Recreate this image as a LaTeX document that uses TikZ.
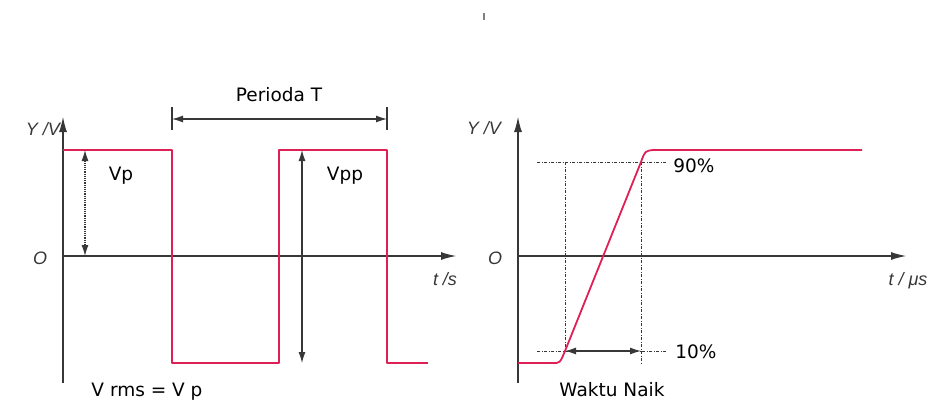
\documentclass[tikz,border=0pt]{standalone}
\usepackage{fontspec}
\setmainfont{DejaVu Sans}
\newfontfamily\axisfont{Liberation Sans}
\usepackage{tikz}
\usetikzlibrary{arrows.meta}
\usepackage{xcolor}
\definecolor{sigred}{RGB}{222,32,86}
\definecolor{axgray}{RGB}{55,55,55}

\begin{document}
\begin{tikzpicture}[x=1pt, y=-1pt,
  axis/.style={line width=2pt, axgray, -{Latex[length=16pt,width=8pt]}},
  wave/.style={line width=1.8pt, sigred, line join=round},
  dim/.style={line width=1.2pt, axgray, {Latex[length=11pt,width=7pt]}-{Latex[length=11pt,width=7pt]}},
  guide/.style={line width=1pt, axgray, dash pattern=on 3pt off 1.5pt on 1pt off 1.5pt},
  lbl/.style={font=\fontsize{18.5}{22}\selectfont, text=black, inner sep=0pt},
  axlbl/.style={font=\axisfont\itshape\fontsize{18}{21}\selectfont, text=axgray, inner sep=0pt}]
\useasboundingbox (0,0) rectangle (937,407);

% stray mark at the top
\draw[line width=1.5pt, gray] (484,13) -- (484,20);

%%% Left panel: square wave
% axes
\draw[axis] (63,383) -- (63,116);
\draw[axis] (63,256) -- (457,256);
\node[axlbl] at (43,129) {Y /V};
\node[axlbl] at (40,258) {O};
\node[axlbl] at (445,279) {t /s};

% signal
\draw[wave] (63,150) -- (172,150) -- (172,363) -- (279,363) -- (279,150)
  -- (387,150) -- (387,363) -- (428,363);

% period
\draw[line width=1.2pt, axgray] (172,107) -- (172,130);
\draw[line width=1.2pt, axgray] (387,107) -- (387,130);
\draw[dim] (172,119) -- (387,119);
\node[lbl] at (279,95) {Perioda T};

% peak and peak-to-peak
\draw[dim, densely dotted] (85,150) -- (85,256);
\node[lbl] at (121,176) {Vp};
\draw[dim] (302,150) -- (302,363);
\node[lbl] at (345,176) {Vpp};

\node[lbl] at (147,392) {V rms = V p};

%%% Right panel: rise time
\draw[axis] (518,383) -- (518,116);
\draw[axis] (518,256) -- (907,256);
\node[axlbl] at (484,128) {Y /V};
\node[axlbl] at (495,258) {O};
\node[axlbl] at (908,281) {t / μs};

% 10% and 90% levels
\coordinate (low_pt) at (565,351);
\coordinate (high_pt) at (641,162);
\draw[guide] (537,162) -- (667,162);
\draw[guide] (537,351) -- (667,351);
\draw[guide] (565,162) -- (565,351);
\draw[guide] (641,162) -- (641,363);
\node[lbl] at (694,166) {90\%};
\node[lbl] at (696,352) {10\%};

% signal
\draw[wave] (518,363) -- (553,363) .. controls (560,363) .. (low_pt) -- (high_pt)
  .. controls (645,151) .. (653,150) -- (862,150);

% rise time
\draw[dim] (low_pt) -- (low_pt -| high_pt);
\node[lbl] at (612,390) {Waktu Naik};

\end{tikzpicture}
\end{document}
